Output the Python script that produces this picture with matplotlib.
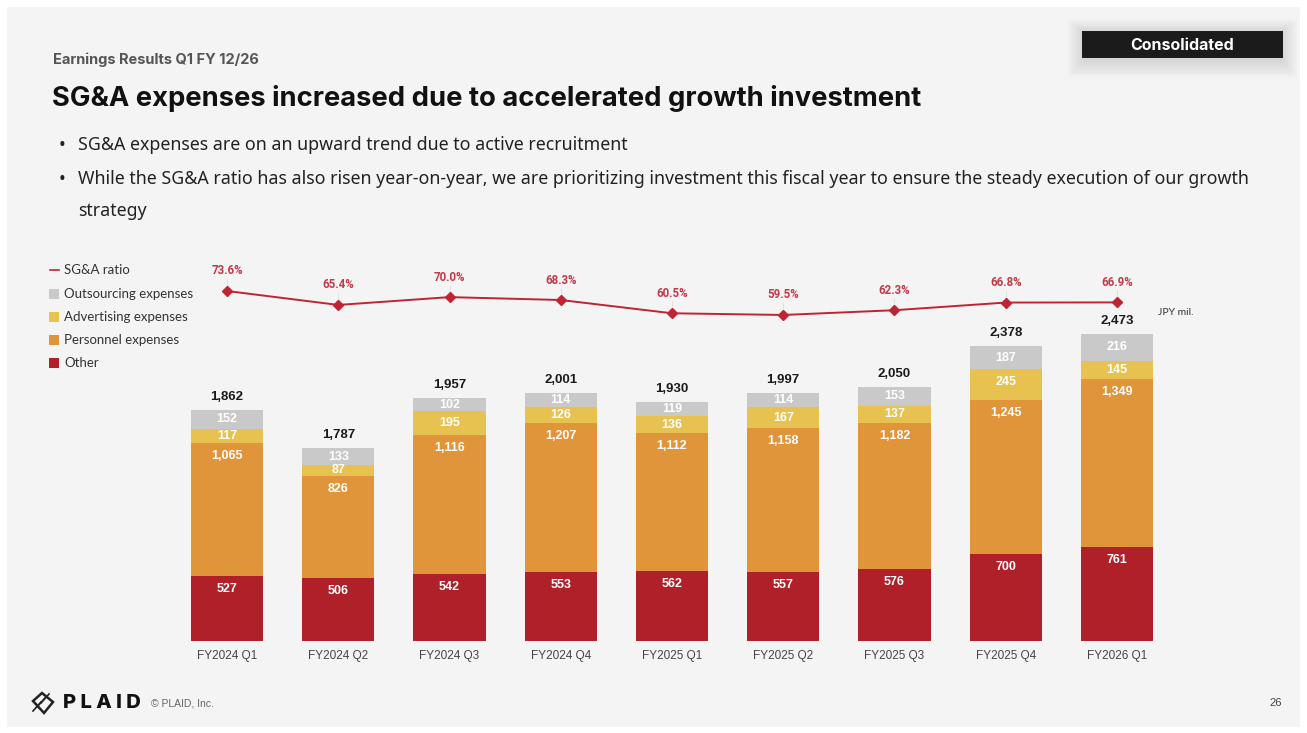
import numpy as np
import matplotlib
matplotlib.use("Agg")
import matplotlib.pyplot as plt
from matplotlib.patches import Rectangle, Polygon

# quarterly SG&A breakdown, JPY mil.
quarters = ["FY2024 Q1", "FY2024 Q2", "FY2024 Q3", "FY2024 Q4", "FY2025 Q1",
            "FY2025 Q2", "FY2025 Q3", "FY2025 Q4", "FY2026 Q1"]
other = [527, 506, 542, 553, 562, 557, 576, 700, 761]
personnel = [1065, 826, 1116, 1207, 1112, 1158, 1182, 1245, 1349]
advertising = [117, 87, 195, 126, 136, 167, 137, 245, 145]
outsourcing = [152, 133, 102, 114, 119, 114, 153, 187, 216]
totals = [1862, 1787, 1957, 2001, 1930, 1997, 2050, 2378, 2473]
sga_ratio = [73.6, 65.4, 70.0, 68.3, 60.5, 59.5, 62.3, 66.8, 66.9]

series = [
    ("Other", other, "#b02029"),
    ("Personnel expenses", personnel, "#e0953b"),
    ("Advertising expenses", advertising, "#e8c251"),
    ("Outsourcing expenses", outsourcing, "#c9c9c9"),
]
line_color = "#be2432"

W, H = 1307, 733
fig = plt.figure(figsize=(W / 100, H / 100), dpi=100, facecolor="white")


def fx(x):
    return x / W


def fy(y):
    return 1 - y / H


# slide background
fig.patches.append(Rectangle((fx(7), fy(727)), fx(1293), 720 / H,
                             transform=fig.transFigure, facecolor="#f4f4f4",
                             edgecolor="none", zorder=-10))

# header
fig.text(fx(53), fy(60), "Earnings Results Q1 FY 12/26", fontsize=10.5,
         fontweight="bold", color="#555555", family="Inter", va="center")
fig.text(fx(52), fy(98), "SG&A expenses increased due to accelerated growth investment",
         fontsize=19.7, fontweight="bold", color="#111111", family="Inter", va="center")

bullets = [
    (145, "SG&A expenses are on an upward trend due to active recruitment"),
    (179, "While the SG&A ratio has also risen year-on-year, we are prioritizing investment "
          "this fiscal year to ensure the steady execution of our growth"),
]
for y, t in bullets:
    fig.text(fx(59), fy(y), "•", fontsize=12.8, color="#222222", family="Noto Sans", va="center")
    fig.text(fx(78), fy(y), t, fontsize=12.8, color="#222222", family="Noto Sans", va="center")
fig.text(fx(78), fy(211), "strategy", fontsize=12.8, color="#222222", family="Noto Sans",
         va="center")

# "Consolidated" tag with soft shadow
for i in range(10):
    pad = i * 1.6
    fig.patches.append(Rectangle((fx(1082 - pad), fy(61 + pad * 1.2)), fx(201 + 2 * pad),
                                 (30 + 2 * pad) / H, transform=fig.transFigure,
                                 facecolor="#000000", alpha=0.012, edgecolor="none",
                                 zorder=1))
fig.patches.append(Rectangle((fx(1082), fy(58)), fx(201), 27 / H,
                             transform=fig.transFigure, facecolor="#1b1b1b",
                             edgecolor="none", zorder=2))
fig.text(fx(1182), fy(45), "Consolidated", fontsize=11.5, fontweight="bold",
         color="white", family="Inter", ha="center", va="center", zorder=3)

# chart axes: baseline at y=641 px, top at y=250 px
left_px, right_px, top_px, base_px = 171.4, 1172.6, 250, 641
ax = fig.add_axes([fx(left_px), fy(base_px), fx(right_px - left_px),
                   (base_px - top_px) / H])
px_per_unit = 307 / 2473
ax.set_xlim(-0.5, len(quarters) - 0.5)
ax.set_ylim(0, (base_px - top_px) / px_per_unit)
ax.axis("off")

x = np.arange(len(quarters))
bottom = np.zeros(len(quarters))
for name, vals, col in series:
    vals = np.array(vals, dtype=float)
    ax.bar(x, vals, width=0.65, bottom=bottom, color=col, edgecolor="none", zorder=2)
    for xi, b, v in zip(x, bottom, vals):
        top = b + v
        off = min(v / 2, 13 / px_per_unit)
        ax.text(xi, top - off, f"{int(v):,}", ha="center", va="center",
                fontsize=9, fontweight="bold", color="white",
                family="Liberation Sans", zorder=3)
    bottom += vals

for xi, b, t in zip(x, bottom, totals):
    ax.text(xi, b + 13 / px_per_unit, f"{t:,}", ha="center", va="center",
            fontsize=9.5, fontweight="bold", color="#1a1a1a",
            family="Liberation Sans", zorder=3)

for xi, q in zip(x, quarters):
    ax.text(xi, -15 / px_per_unit, q, ha="center", va="center", fontsize=8.5,
            color="#444444", family="Liberation Sans", clip_on=False)

# SG&A ratio line on its own scale
ax2 = ax.twinx()
px_per_pct = 1.70
lo = 73.6 - (base_px - 291) / px_per_pct
ax2.set_ylim(lo, lo + (base_px - top_px) / px_per_pct)
ax2.axis("off")
ax2.plot(x, sga_ratio, color=line_color, lw=1.4, marker="D", markersize=5.5,
         zorder=4)
for xi, r in zip(x, sga_ratio):
    ax2.plot([xi, xi], [r + 4 / px_per_pct, r + 12 / px_per_pct], color="#dddddd",
             lw=0.6, zorder=3)
    ax2.text(xi, r + 20 / px_per_pct, f"{r:.1f}%", ha="center", va="center",
             fontsize=8.3, fontweight="bold", color="#c23a49", family="Roboto")

fig.text(fx(1158), fy(313), "JPY mil.", fontsize=7.5, color="#333333",
         family="Lato", va="center")

# legend
leg_y = [270, 294, 317, 340, 363]
leg_items = [("SG&A ratio", line_color, "line")] + [
    (n, c, "box") for n, _, c in series[::-1]]
for (name, col, kind), y in zip(leg_items, leg_y):
    if kind == "line":
        fig.lines.append(plt.Line2D([fx(50), fx(59)], [fy(y), fy(y)], color=col, lw=1.2,
                                    transform=fig.transFigure))
    else:
        fig.patches.append(Rectangle((fx(49), fy(y + 5)), fx(10), 10 / H,
                                     transform=fig.transFigure, facecolor=col,
                                     edgecolor="none"))
    fig.text(fx(64), fy(y), name, fontsize=9.5, color="#333333", family="Lato",
             va="center")

# footer with logo
cx, cy = 43, 703
diamond = Polygon([(fx(cx - 10), fy(cy - 2)), (fx(cx - 1), fy(cy - 10)),
                   (fx(cx + 10), fy(cy - 1)), (fx(cx + 1), fy(cy + 10))],
                  closed=True, transform=fig.transFigure, facecolor="none",
                  edgecolor="#222222", lw=1.8)
fig.patches.append(diamond)
for d in (-4, 0, 4):
    fig.lines.append(plt.Line2D([fx(cx - 6 + d), fx(cx + 2 + d)],
                                [fy(cy + 4 - d), fy(cy - 5 - d)],
                                color="#222222", lw=1.2, transform=fig.transFigure))
fig.text(fx(63), fy(703), "P L A I D", fontsize=14.5, fontweight="heavy", color="#111111",
         family="Inter", va="center")
fig.text(fx(151), fy(703), "© PLAID, Inc.", fontsize=7.5, color="#666666",
         family="Liberation Sans", va="center")
fig.text(fx(1282), fy(703), "26", fontsize=8, color="#444444",
         family="Liberation Sans", va="center", ha="right")

fig.savefig("out.png", dpi=100, facecolor=fig.get_facecolor())
